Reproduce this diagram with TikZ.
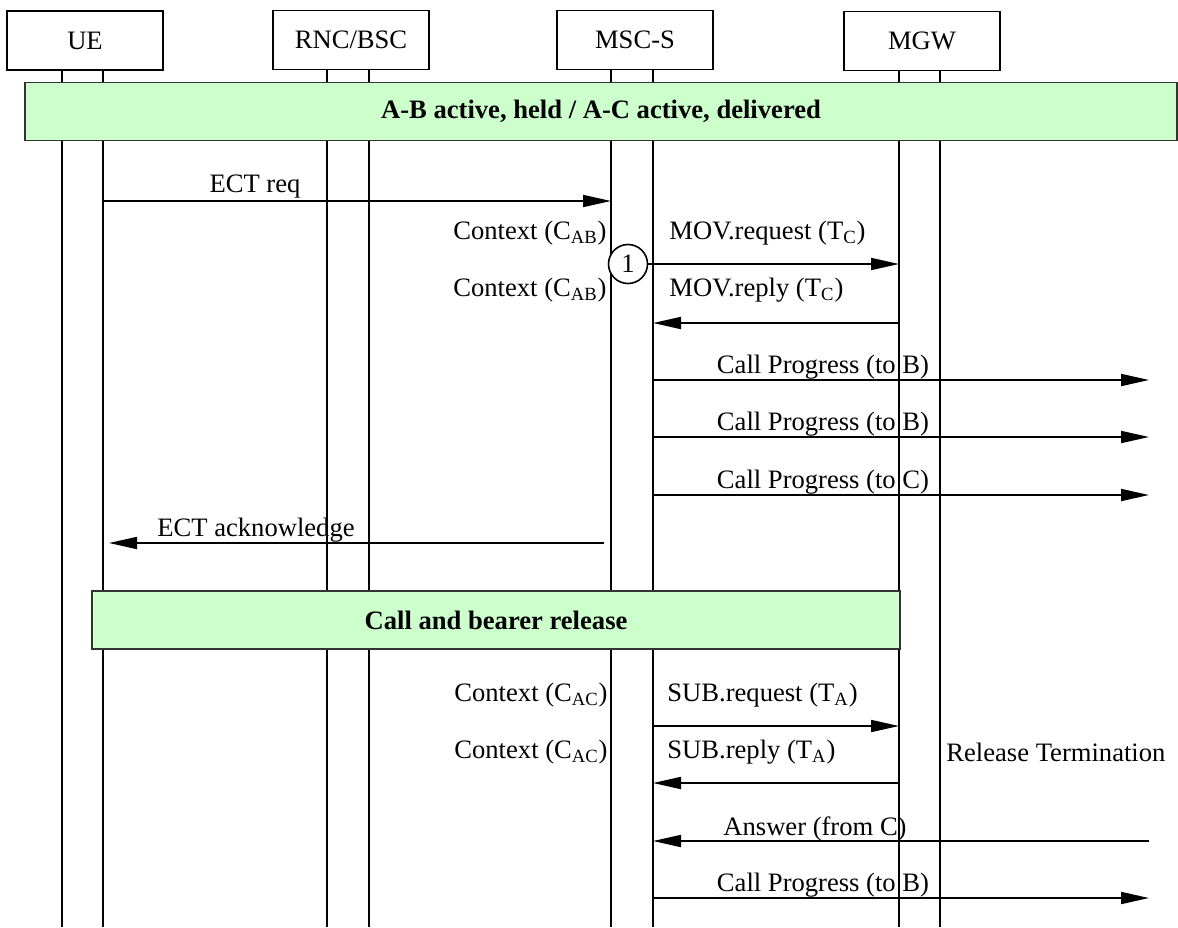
\documentclass[tikz,border=0pt]{standalone}
\usepackage{fontspec}
\setmainfont{Liberation Serif}
\usetikzlibrary{arrows.meta}
\definecolor{bandgreen}{RGB}{204,255,204}

\begin{document}
\begin{tikzpicture}[
    x=0.5pt, y=-0.5pt,
    font=\fontsize{13.3}{16}\selectfont,
    box/.style={draw, line width=0.8pt, minimum width=78pt, minimum height=29.5pt},
    band/.style={draw=black!80, line width=0.8pt, fill=bandgreen, font=\fontsize{13.3}{16}\selectfont\bfseries, minimum height=29pt},
    life/.style={line width=0.9pt},
    link/.style={-{Triangle[length=14pt, width=6pt]}, line width=0.9pt},
    lbl/.style={inner sep=0pt}
]
\useasboundingbox (0,0) rectangle (1178,927);

\node[box] (ue) at (85,40.5) {UE};
\node[box] (rnc) at (351,40) {RNC/BSC};
\node[box] (msc) at (635,40) {MSC-S};
\node[box] (mgw) at (922,41) {MGW};

\foreach \n/\x in {ueL/62, ueR/103, rncL/327, rncR/369, mscL/611, mscR/653, mgwL/899, mgwR/940}
  \coordinate (\n) at (\x,70);
\coordinate (bot) at (0,927);
\coordinate (peer) at (1149,0);
\foreach \n in {ueL,ueR,rncL,rncR,mscL,mscR,mgwL,mgwR}
  \draw[life] (\n) -- (\n |- bot);

\node[band, minimum width=576pt] (held) at (601,111.5) {A-B active, held / A-C active, delivered};
\node[band, minimum width=404pt] (rel) at (496,620) {Call and bearer release};

\coordinate (r1) at (0,201);
\draw[link] (ueR |- r1) -- (mscL |- r1);
\node[lbl] (ectreq) at (255,187) {ECT req};

\node[lbl, anchor=east] (ctx1) at (607,233) {Context (C\textsubscript{AB})};
\node[lbl, anchor=west] (movreq) at (669,233) {MOV.request (T\textsubscript{C})};
\node[draw, circle, fill=white, line width=0.8pt, minimum size=19.5pt, inner sep=0pt] (c1) at (628,264) {1};
\draw[link] (c1.east) -- (mgwL |- c1.east);

\node[lbl, anchor=east] (ctx2) at (607,290) {Context (C\textsubscript{AB})};
\node[lbl, anchor=west] (movrep) at (669,290) {MOV.reply (T\textsubscript{C})};
\coordinate (r2) at (0,323);
\draw[link] (mgwL |- r2) -- (mscR |- r2);

\foreach \y/\t [count=\i] in {380/B, 437/B, 495/C} {
  \coordinate (cpr\i) at (0,\y);
  \draw[link] (mscR |- cpr\i) -- (peer |- cpr\i);
  \node[lbl] (cp\i) at (823,\y-13) {Call Progress (to \t)};
}

\coordinate (r6) at (0,543);
\draw[link, shorten <=3.5pt, shorten >=3pt] (mscL |- r6) -- (ueR |- r6);
\node[lbl] (ectack) at (256,530) {ECT acknowledge};

\node[lbl, anchor=east] (ctx3) at (608,695) {Context (C\textsubscript{AC})};
\node[lbl, anchor=west] (subreq) at (667,695) {SUB.request (T\textsubscript{A})};
\coordinate (r7) at (0,726);
\draw[link] (mscR |- r7) -- (mgwL |- r7);

\node[lbl, anchor=east] (ctx4) at (608,752) {Context (C\textsubscript{AC})};
\node[lbl, anchor=west] (subrep) at (667,752) {SUB.reply (T\textsubscript{A})};
\node[lbl, anchor=west] (relterm) at (946,752) {Release Termination};
\coordinate (r8) at (0,783);
\draw[link] (mgwL |- r8) -- (mscR |- r8);

\coordinate (r9) at (0,841);
\draw[link] (peer |- r9) -- (mscR |- r9);
\node[lbl] (ans) at (815,829) {Answer (from C)};

\coordinate (r10) at (0,898);
\draw[link] (mscR |- r10) -- (peer |- r10);
\node[lbl] (cp4) at (823,885) {Call Progress (to B)};
\end{tikzpicture}
\end{document}
